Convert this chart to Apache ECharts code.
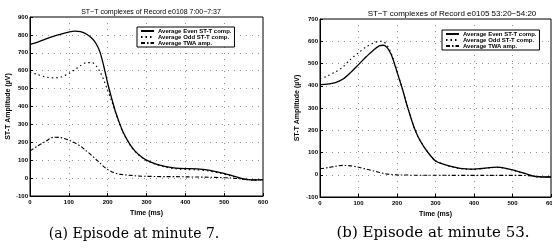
<!DOCTYPE html>
<html>
<head>
<meta charset="utf-8">
<script src="https://cdn.jsdelivr.net/npm/echarts@6/dist/echarts.min.js"></script>
<style>
  html, body { margin: 0; padding: 0; background: #fff; }
  #main { width: 552px; height: 248px; }
</style>
</head>
<body>
<div id="main"></div>
<script>
// (a) e0108 7:00-7:37
const timeA = [0, 20, 40, 60, 80, 100, 115, 130, 145, 160, 170, 180, 190, 200, 210, 220, 230, 240, 250, 260, 270, 285, 300, 325, 350, 375, 400, 430, 460, 490, 520, 550, 575, 600];
const evenA = [747, 760, 777, 792, 805, 816, 821, 818, 805, 780, 752, 705, 625, 530, 448, 372, 310, 256, 215, 180, 152, 122, 100, 78, 64, 56, 53, 52, 45, 30, 14, -4, -10, -8];
const oddA  = [592, 578, 565, 560, 565, 585, 605, 628, 645, 645, 628, 595, 548, 490, 432, 368, 306, 252, 212, 177, 150, 120, 98, 76, 61, 52, 48, 46, 40, 27, 11, -7, -12, -10];
const twaA  = [152, 180, 205, 228, 226, 212, 197, 178, 152, 125, 105, 85, 64, 48, 36, 28, 22, 19, 17, 15, 13, 11, 10, 9, 8, 8, 7, 6, 5, 3, 0, -6, -10, -9];

// (b) e0105 53:20-54:20
const timeB = [0, 20, 40, 60, 80, 100, 120, 140, 155, 165, 175, 185, 195, 205, 215, 225, 235, 245, 255, 270, 285, 300, 320, 340, 360, 380, 400, 420, 440, 460, 480, 500, 520, 540, 560, 580, 600];
const evenB = [405, 407, 414, 430, 460, 495, 530, 562, 580, 582, 570, 540, 490, 435, 380, 318, 262, 210, 170, 125, 90, 62, 48, 38, 30, 26, 25, 28, 32, 34, 30, 22, 12, 2, -8, -10, -10];
const oddB  = [430, 445, 462, 485, 520, 548, 575, 593, 600, 598, 580, 546, 494, 437, 381, 319, 263, 211, 171, 126, 91, 63, 48, 37, 29, 25, 24, 27, 31, 33, 29, 21, 11, 1, -9, -11, -11];
const twaB  = [27, 32, 38, 42, 40, 34, 25, 17, 10, 6, 3, 1, 0, -1, -1, -1, -2, -2, -2, -2, -2, -2, -2, -3, -3, -3, -3, -3, -3, -3, -3, -3, -3, -4, -6, -9, -10];

const xTicks = [0, 100, 200, 300, 400, 500, 600];
const names = ['Average Even ST-T comp.', 'Average Odd ST-T comp.', 'Average TWA amp.'];

function pairs(xs, ys) {
  return xs.map((x, i) => [x, ys[i]]);
}

const tickFont = { fontSize: 6, fontWeight: 'bold', color: '#000', fontFamily: 'Arial' };
const gridDots = { show: true, lineStyle: { color: '#777', width: 0.8, type: [1, 5] } };

function xAxisFor(gridIndex) {
  return {
    gridIndex: gridIndex,
    type: 'value',
    min: 0, max: 600, interval: 100,
    name: 'Time (ms)',
    nameLocation: 'middle',
    nameGap: 12,
    nameTextStyle: { fontSize: 7, fontWeight: 'bold', color: '#000', fontFamily: 'Arial' },
    axisLine: { onZero: false, lineStyle: { color: '#000', width: 1 } },
    axisTick: { inside: true, length: 3, lineStyle: { color: '#000' } },
    axisLabel: Object.assign({ margin: 3, formatter: v => xTicks.includes(v) ? String(v) : '' }, tickFont),
    splitLine: gridDots
  };
}

function yAxisFor(gridIndex, max, gap) {
  return {
    gridIndex: gridIndex,
    type: 'value',
    min: -100, max: max, interval: 100,
    name: 'ST-T Amplitude (\u00b5V)',
    nameLocation: 'middle',
    nameRotate: 90,
    nameGap: gap,
    nameTextStyle: { fontSize: 7, fontWeight: 'bold', color: '#000', fontFamily: 'Arial' },
    axisLine: { onZero: false, lineStyle: { color: '#000', width: 1 } },
    axisTick: { inside: true, length: 3, lineStyle: { color: '#000' } },
    axisLabel: Object.assign({ margin: 2 }, tickFont),
    splitLine: gridDots
  };
}

// even = solid, odd = dotted, twa = dash-dot
const styles = [
  { color: '#000', width: 1.3, type: 'solid' },
  { color: '#000', width: 1.1, type: [1.5, 3] },
  { color: '#000', width: 1.1, type: [4, 2, 1.5, 2] }
];

function lineSeries(name, idx, gridIndex, data) {
  return {
    name: name,
    type: 'line',
    xAxisIndex: gridIndex,
    yAxisIndex: gridIndex,
    data: data,
    smooth: 0.3,
    symbol: 'none',
    lineStyle: styles[idx],
    itemStyle: { color: '#000' },
    z: 5 - idx
  };
}

function legendFor(left, top, size) {
  return {
    left: left, top: top,
    orient: 'vertical',
    itemGap: 0,
    itemWidth: 13,
    itemHeight: 6,
    padding: [1, 3, 1, 3],
    borderColor: '#000',
    borderWidth: 1,
    borderRadius: 0,
    backgroundColor: '#fff',
    data: names,
    itemStyle: { opacity: 0 },   // hide the little dot, keep the line sample
    textStyle: { fontSize: size, fontWeight: 'bold', color: '#000', fontFamily: 'Arial', padding: [0, 0, 0, -1] },
    selectedMode: false
  };
}

let option = {
  backgroundColor: '#fff',
  animation: false,
  title: [
    { text: 'ST\u2212T complexes of Record e0108 7:00\u22127:37', left: 146, top: 4, textAlign: 'center',
      textStyle: { fontSize: 7, fontWeight: 'normal', color: '#000', fontFamily: 'Arial' } },
    { text: 'ST\u2212T complexes of Record e0105 53:20\u221254:20', left: 447, top: 5, textAlign: 'center',
      textStyle: { fontSize: 8, fontWeight: 'normal', color: '#000', fontFamily: 'Arial' } },
    { text: '(a) Episode at minute 7.', left: 129, top: 222, textAlign: 'center',
      textStyle: { fontSize: 14, fontWeight: 'normal', color: '#000', fontFamily: 'DejaVu Serif' } },
    { text: '(b) Episode at minute 53.', left: 428, top: 221, textAlign: 'center',
      textStyle: { fontSize: 15, fontWeight: 'normal', color: '#000', fontFamily: 'DejaVu Serif' } }
  ],
  legend: [legendFor(137, 27, 6), legendFor(442, 30, 6)],
  grid: [
    { left: 30, top: 17, width: 233, height: 179, outerBoundsMode: 'none', show: true, borderColor: '#000', borderWidth: 1, backgroundColor: 'transparent' },
    { left: 320, top: 19, width: 231, height: 178, outerBoundsMode: 'none', show: true, borderColor: '#000', borderWidth: 1, backgroundColor: 'transparent' }
  ],
  xAxis: [xAxisFor(0), xAxisFor(1)],
  yAxis: [yAxisFor(0, 900, 18), yAxisFor(1, 700, 19)],
  series: [
    lineSeries(names[0], 0, 0, pairs(timeA, evenA)),
    lineSeries(names[1], 1, 0, pairs(timeA, oddA)),
    lineSeries(names[2], 2, 0, pairs(timeA, twaA)),
    lineSeries(names[0], 0, 1, pairs(timeB, evenB)),
    lineSeries(names[1], 1, 1, pairs(timeB, oddB)),
    lineSeries(names[2], 2, 1, pairs(timeB, twaB))
  ]
};

let chartDom = document.getElementById('main');
let myChart = echarts.init(chartDom, null, { renderer: 'canvas' });
myChart.setOption(option);
</script>
</body>
</html>
